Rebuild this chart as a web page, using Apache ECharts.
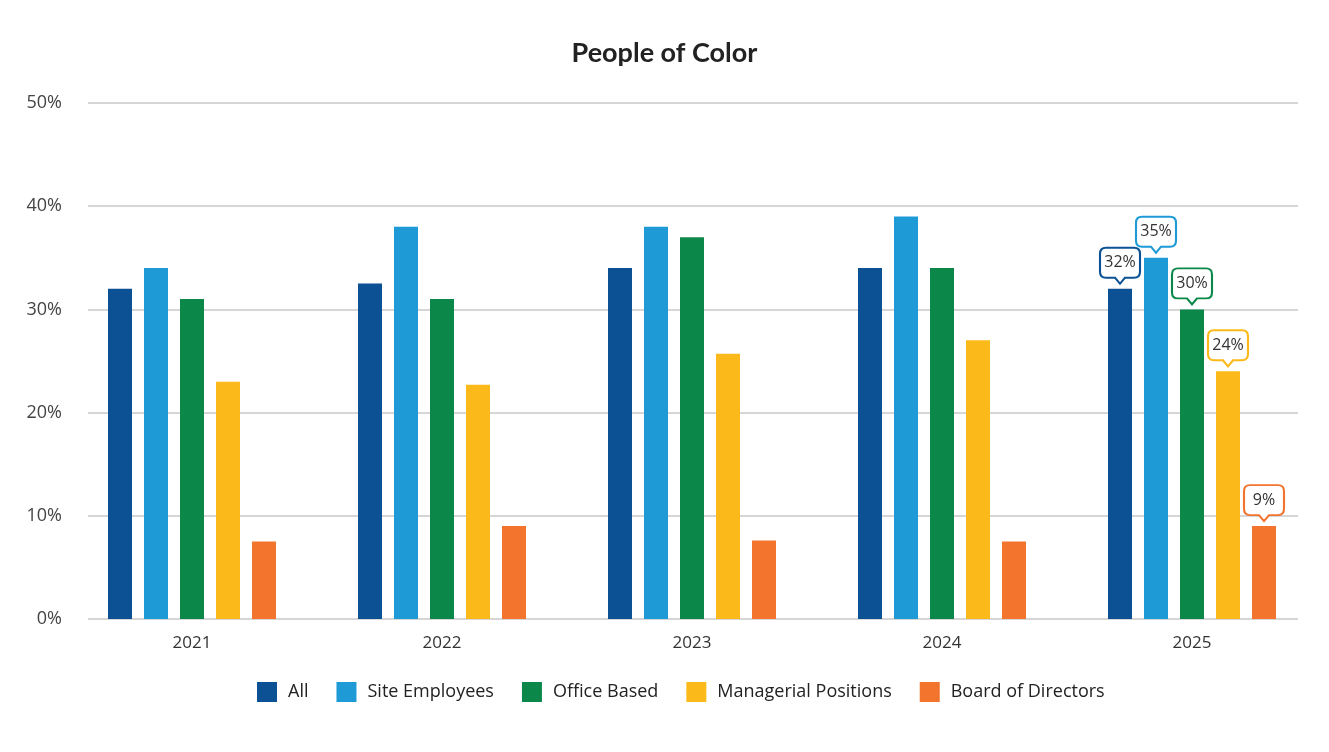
<!DOCTYPE html>
<html><head><meta charset="utf-8">
<script src="https://cdn.jsdelivr.net/npm/echarts@6/dist/echarts.min.js"></script>
<style>html,body{margin:0;padding:0;background:#fff}#c{width:1329px;height:752px}</style>
</head><body><div id="c"></div>
<script>
const categories = ['2021', '2022', '2023', '2024', '2025'];
const seriesNames = ['All', 'Site Employees', 'Office Based', 'Managerial Positions', 'Board of Directors'];
const allValues = [32, 32.5, 34, 34, 32];
const siteValues = [34, 38, 38, 39, 35];
const officeValues = [31, 31, 37, 34, 30];
const managerialValues = [23, 22.7, 25.7, 27, 24];
const boardValues = [7.5, 9, 7.6, 7.5, 9];
const yTicks = [0, 10, 20, 30, 40, 50];
const calloutYear = '2025';

const colors = ['#0B5194', '#1E9BD7', '#0B8749', '#FBBA1A', '#F3742D'];
const values = [allValues, siteValues, officeValues, managerialValues, boardValues];
const calloutPath = 'path://M6,0 L34,0 Q40,0 40,6 L40,24 Q40,30 34,30 L25,30 L20,36 L15,30 L6,30 Q0,30 0,24 L0,6 Q0,0 6,0 Z';
const FONT = '"Open Sans", "Noto Sans", sans-serif';

const chart = echarts.init(document.getElementById('c'));
const series = values.map((v, i) => ({
  name: seriesNames[i],
  type: 'bar',
  xAxisIndex: 1,
  yAxisIndex: 1,
  data: v,
  barWidth: 24,
  barGap: '50%',
  itemStyle: { color: colors[i] },
  markPoint: {
    symbol: calloutPath,
    symbolSize: [40, 36],
    symbolOffset: [0, -23],
    itemStyle: { color: '#fff', borderColor: colors[i], borderWidth: 2 },
    label: {
      show: true, position: 'inside', offset: [0, -3],
      formatter: p => p.value + '%',
      color: '#333', fontSize: 16, fontFamily: FONT
    },
    data: [{ coord: [calloutYear, v[categories.indexOf(calloutYear)]], value: v[categories.indexOf(calloutYear)] }],
    silent: true,
    animation: false
  }
}));

chart.setOption({
  animation: false,
  color: colors,
  title: {
    text: 'People of Color', left: 'center', top: 35,
    textStyle: { fontFamily: 'Lato, "Open Sans", sans-serif', fontWeight: 700, fontSize: 27, color: '#222' }
  },
  legend: {
    bottom: 45, left: 252,
    icon: 'rect', itemWidth: 20, itemHeight: 20, itemGap: 28,
    data: seriesNames,
    textStyle: { fontFamily: FONT, fontSize: 18, color: '#222', padding: [0, 0, 0, 6] }
  },
  grid: [
    { left: 88, right: 31, top: 103, bottom: 133 },
    { left: 67, right: 12, top: 103, bottom: 133 }
  ],
  xAxis: [
    { gridIndex: 0, type: 'value', show: false, min: 0, max: 1 },
    {
      gridIndex: 1, type: 'category', data: categories,
      axisLine: { show: false }, axisTick: { show: false },
      axisLabel: { fontFamily: FONT, fontSize: 17, color: '#333', margin: 16 }
    }
  ],
  yAxis: [
    {
      gridIndex: 0, type: 'value', min: 0, max: 50, interval: 10,
      axisLine: { show: false }, axisTick: { show: false },
      axisLabel: { formatter: v => yTicks.includes(v) ? v + '%' : '', fontFamily: FONT, fontSize: 18, color: '#444', margin: 26 },
      splitLine: { lineStyle: { color: '#d6d6d6', width: 2 } }
    },
    { gridIndex: 1, type: 'value', min: 0, max: 50, interval: 10, show: false, splitLine: { show: false } }
  ],
  series: series
});
</script></body></html>
